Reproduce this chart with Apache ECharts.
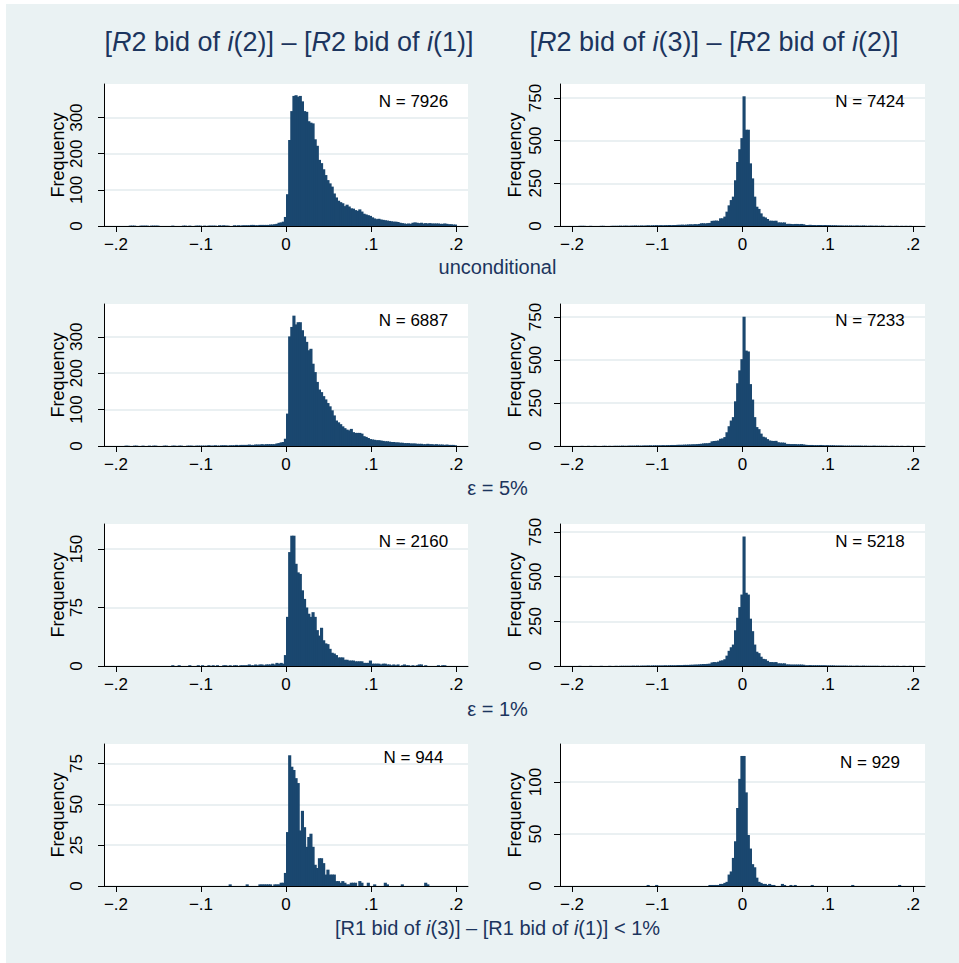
<!DOCTYPE html>
<html><head><meta charset="utf-8">
<script src="https://cdn.jsdelivr.net/npm/echarts@6/dist/echarts.min.js"></script>
<style>html,body{margin:0;padding:0;background:#fff}#c{width:959px;height:963px}</style>
</head><body><div id="c"></div>
<script>
// ---- data: histogram counts, bins of width 0.0025 starting at -0.2 (160 bins) ----
const BIN_START = -0.2;
const BIN_WIDTH = 0.0025;
const xTicks = [-0.2, -0.1, 0, 0.1, 0.2];

const colTitles = ['[{it|R}2 bid of {it|i}(2)] \u2013 [{it|R}2 bid of {it|i}(1)]',
                   '[{it|R}2 bid of {it|i}(3)] \u2013 [{it|R}2 bid of {it|i}(2)]'];
const rowTitles = ['unconditional', '\u03b5 = 5%', '\u03b5 = 1%',
                   '[R1 bid of {it|i}(3)] \u2013 [R1 bid of {it|i}(1)] < 1%'];
const nLabels = ['N = 7926', 'N = 7424', 'N = 6887', 'N = 7233', 'N = 2160', 'N = 5218', 'N = 944', 'N = 929'];

const countsA = [
0,0,0,0,0,0,1,1,1,0, 0,1,1,1,1,0,1,1,1,1,
0,0,0,0,0,0,1,0,0,0, 0,1,1,0,1,0,0,1,1,1,
0,1,0,1,1,1,1,0,2,1, 2,1,1,0,0,2,1,2,1,2,
2,2,2,3,3,2,2,3,3,3, 3,3,4,4,5,6,9,10,12,25,
88,238,318,360,362,358,360,345,318,316,
290,286,284,240,222,183,174,157,141,127,
118,109,90,79,70,66,63,55,59,54,
49,48,44,42,46,40,34,32,30,28,
24,21,19,20,18,17,16,15,14,13,
12,12,11,9,8,7,6,7,6,9,
10,9,8,9,7,8,7,8,7,7,
7,7,6,6,7,6,5,5,4,4];
const countsB = [
0,0,0,1,1,1,0,0,1,0, 0,0,0,1,1,0,0,0,1,1,
1,1,2,1,2,2,1,2,2,3, 2,2,3,2,3,4,3,4,4,5,
4,5,4,5,5,6,5,6,6,7, 7,8,7,8,9,10,9,11,10,12,
16,16,15,17,18,30,31,32,30,45, 45,55,84,121,152,172,268,375,450,515,
760,564,564,367,279,172,113,100,74,55, 50,41,31,31,30,31,21,21,20,21,
12,13,12,11,12,12,11,12,10,6, 6,7,6,6,5,6,6,5,6,5,
5,4,4,4,3,3,3,2,3,2, 3,2,2,3,2,2,3,2,1,2,
2,1,2,1,1,2,1,0,1,1, 0,1,1,0,1,0,1,0,1,0];
const countsC = [
0,0,0,0,1,1,0,0,1,1, 0,0,1,0,0,1,0,1,1,0,
0,0,1,1,0,0,1,1,0,1, 1,0,0,1,1,1,0,1,1,1,
1,1,1,2,1,1,2,1,1,2, 2,2,1,2,2,2,3,2,3,3,
3,3,4,3,3,4,4,4,5,4, 5,5,5,5,5,7,8,10,11,20,
89,301,327,358,334,340,340,318,301,286,
263,267,226,203,176,155,148,137,128,118,
109,98,84,70,65,60,54,49,45,43,
47,38,36,36,36,34,27,25,22,19,
18,17,16,16,15,14,13,13,12,11,
11,10,10,9,9,8,8,8,7,7,
7,6,6,6,5,5,6,5,5,4,
5,4,4,4,3,4,3,3,3,2];
const countsD = [
0,0,0,0,1,0,0,1,0,0, 1,0,0,0,1,1,0,1,0,1,
1,1,1,2,1,1,2,2,2,2, 3,2,2,3,3,3,4,3,4,4,
4,4,5,4,5,5,6,6,6,7, 7,7,8,8,9,9,10,10,11,12,
13,15,16,16,18,27,29,30,32,42, 44,52,80,115,148,168,260,365,440,505,
752,555,550,360,270,168,110,98,72,54, 50,40,32,30,29,30,22,20,20,19,
12,12,11,11,11,10,10,11,9,7, 6,6,6,5,5,5,6,5,4,5,
4,4,4,3,3,3,3,2,2,2, 2,2,2,2,2,2,1,2,1,1,
1,2,1,1,1,1,1,1,0,1, 1,0,1,0,1,0,0,1,0,0];
const countsE = [
0,0,0,0,0,0,0,0,0,0, 0,0,0,0,0,0,0,0,0,0,
0,0,0,0,0,0,1,0,0,1, 0,0,0,0,1,0,0,0,1,0,
1,0,0,1,0,1,0,1,0,0, 1,1,0,1,0,1,1,0,1,1,
1,1,2,1,1,2,1,2,2,1, 2,2,2,3,2,4,3,4,3,14,
63,146,167,167,131,120,118,97,86,75,
67,63,69,63,46,39,49,33,29,28,
22,17,16,14,11,11,11,8,8,7,
7,7,6,6,6,6,4,4,4,7,
3,3,3,3,2,3,3,2,2,1,
2,1,2,0,1,2,1,1,0,1,
0,1,2,2,0,1,0,0,0,0,
0,1,0,1,1,0,0,0,0,0];
const countsF = [
0,0,0,1,0,0,0,0,1,0, 0,0,0,1,0,0,0,1,0,0,
1,0,1,1,1,1,1,1,2,1, 2,1,2,2,2,3,2,3,3,3,
3,3,3,4,3,4,4,4,4,5, 5,5,6,6,6,7,7,8,8,9,
10,11,11,12,13,20,22,21,24,30, 32,38,58,85,105,120,200,270,330,400,
725,410,400,265,195,120,80,72,52,40, 38,29,22,22,21,22,15,15,14,15,
9,9,8,8,8,8,8,8,7,4, 4,5,4,4,4,4,4,4,4,3,
3,3,3,2,2,2,2,2,2,1, 2,1,1,2,1,1,2,1,1,1,
1,1,1,1,0,1,1,0,1,0, 1,0,1,0,0,1,0,0,1,0];
const countsG = [
0,0,0,0,0,0,0,0,0,0, 0,0,0,0,0,0,0,0,0,0,
0,0,0,0,0,0,0,0,0,0, 0,0,0,0,0,0,0,0,0,0,
0,0,0,0,0,0,0,0,0,0, 0,0,0,1,0,0,0,0,0,0,
0,1,0,0,0,0,0,1,1,1, 1,1,1,0,1,1,1,2,2,8,
33,80,73,71,66,63,34,46,36,24,
30,32,24,13,11,17,17,14,7,10,
7,7,7,3,3,2,3,2,1,1,
2,2,2,0,3,2,0,0,2,0,
0,1,0,0,0,0,2,1,0,0,
0,0,0,0,1,0,0,0,0,0,
0,0,0,0,0,2,1,0,0,0,
0,0,0,0,0,0,0,0,0,0];
const countsH = [
0,0,0,0,0,0,0,0,0,0, 0,0,0,0,0,0,0,0,0,0,
0,0,0,0,0,0,0,0,0,0, 0,0,0,0,0,1,0,0,0,1,
0,0,0,0,0,0,0,0,0,0, 0,0,0,0,0,0,0,0,0,0,
0,0,0,0,1,1,1,1,1,2, 2,3,4,11,14,27,43,75,103,125,
125,90,49,36,21,18,8,4,3,2,
2,1,2,1,1,0,0,0,2,1,
0,0,1,0,1,0,0,0,0,0,
0,0,1,0,0,0,0,0,0,0,
0,0,0,0,0,0,0,0,0,0,
0,1,0,0,0,0,0,0,0,0,
0,0,0,0,0,0,0,0,0,0,
0,0,0,1,0,0,0,0,0,0];

const allCounts = [countsA, countsB, countsC, countsD, countsE, countsF, countsG, countsH];
const yTickSets = [[0,100,200,300],[0,250,500,750],[0,100,200,300],[0,250,500,750],
                   [0,75,150],[0,250,500,750],[0,25,50,75],[0,50,100]];
const yMaxes = [393, 832, 390, 826, 182, 795, 86.9, 136.5];

// ---- layout / style ----
const FONT = '"Liberation Sans", Arial, Helvetica, sans-serif';
const NAVY = '#1c355e';
const BAR = '#1a476f';
const BG = '#eaf2f3';
const GRIDLINE = '#e3ebee';
const rowTop = [84, 304, 524, 744];
const rowH = 142;
const colLeft = [104, 560];
const colW = [364, 365];
const nPos = [[413.5,101],[870,101],[413.5,320],[870,320],[413.5,541],[870,541],[413.5,757.5],[870,762.5]];

function fmtX(v) {
  if (Math.abs(v) < 1e-9) return '0';
  const s = Math.abs(v).toFixed(1).replace(/^0/, '');
  return (v < 0 ? '\u2212' : '') + s;
}
function renderItem(params, api) {
  const x0 = api.value(0), y = api.value(1);
  const p0 = api.coord([x0, y]);
  const p1 = api.coord([x0 + BIN_WIDTH, 0]);
  return {type: 'rect', shape: {x: p0[0], y: p0[1], width: p1[0] - p0[0] + 1, height: Math.max(p1[1] - p0[1], 0.6)},
          style: {fill: BAR, lineWidth: 0}};
}

const grids = [], xAxes = [], yAxes = [], series = [];
for (let k = 0; k < 8; k++) {
  const r = Math.floor(k / 2), c = k % 2;
  grids.push({left: colLeft[c], top: rowTop[r], width: colW[c], height: rowH, show: true,
              backgroundColor: '#fff', borderWidth: 0, containLabel: false, outerBoundsMode: 'none'});
  xAxes.push({type: 'value', gridIndex: k, min: -0.2141, max: 0.2141,
    axisLine: {show: true, onZero: false, lineStyle: {color: '#000', width: 1}},
    axisTick: {show: true, length: 6, customValues: xTicks, lineStyle: {color: '#000', width: 1}},
    axisLabel: {show: true, customValues: xTicks, formatter: fmtX, color: '#000', fontSize: 17,
                fontFamily: FONT, margin: 10, hideOverlap: false},
    splitLine: {show: false}});
  yAxes.push({type: 'value', gridIndex: k, min: 0, max: yMaxes[k],
    name: 'Frequency', nameLocation: 'middle', nameGap: 36,
    nameTextStyle: {color: '#000', fontSize: 18, fontFamily: FONT},
    axisLine: {show: true, onZero: false, lineStyle: {color: '#000', width: 1}},
    axisTick: {show: true, length: 6, customValues: yTickSets[k], lineStyle: {color: '#000', width: 1}},
    axisLabel: {show: true, customValues: yTickSets[k], rotate: 90, color: '#000', fontSize: 17,
                fontFamily: FONT, margin: c === 0 ? 19 : 16, hideOverlap: false},
    splitLine: {show: true, lineStyle: {color: GRIDLINE, width: 1.5}}});
  const data = [];
  allCounts[k].forEach((v, i) => { if (v > 0) data.push([BIN_START + i * BIN_WIDTH, v]); });
  series.push({type: 'custom', xAxisIndex: k, yAxisIndex: k, data: data, renderItem: renderItem,
               encode: {x: 0, y: 1}, silent: true, animation: false, clip: true});
}

const graphics = [
  {type: 'rect', shape: {x: 0, y: 0, width: 6, height: 963}, style: {fill: '#fff'}, silent: true},
  {type: 'rect', shape: {x: 0, y: 0, width: 959, height: 4}, style: {fill: '#fff'}, silent: true}
];
const titleX = [289, 714];
colTitles.forEach((t, i) => graphics.push({type: 'text', x: titleX[i], y: 42, silent: true,
  style: {text: t, fontSize: 27, fontFamily: FONT, fill: NAVY, align: 'center', verticalAlign: 'middle',
          rich: {it: {fontStyle: 'italic', fontSize: 27, fontFamily: FONT, fill: NAVY}}}}));
const rowTitleY = [267, 488, 709, 928];
rowTitles.forEach((t, i) => graphics.push({type: 'text', x: 497.5, y: rowTitleY[i], silent: true,
  style: {text: t, fontSize: 20, fontFamily: FONT, fill: NAVY, align: 'center', verticalAlign: 'middle',
          rich: {it: {fontStyle: 'italic', fontSize: 20, fontFamily: FONT, fill: NAVY}}}}));
nLabels.forEach((t, k) => graphics.push({type: 'text', x: nPos[k][0], y: nPos[k][1], silent: true, z: 10,
  style: {text: t, fontSize: 17, fontFamily: FONT, fill: '#000', align: 'center', verticalAlign: 'middle'}}));

const chart = echarts.init(document.getElementById('c'), null, {renderer: 'svg', width: 959, height: 963});
chart.setOption({
  backgroundColor: BG,
  animation: false,
  grid: grids, xAxis: xAxes, yAxis: yAxes, series: series,
  graphic: graphics
});
</script>
</body></html>
